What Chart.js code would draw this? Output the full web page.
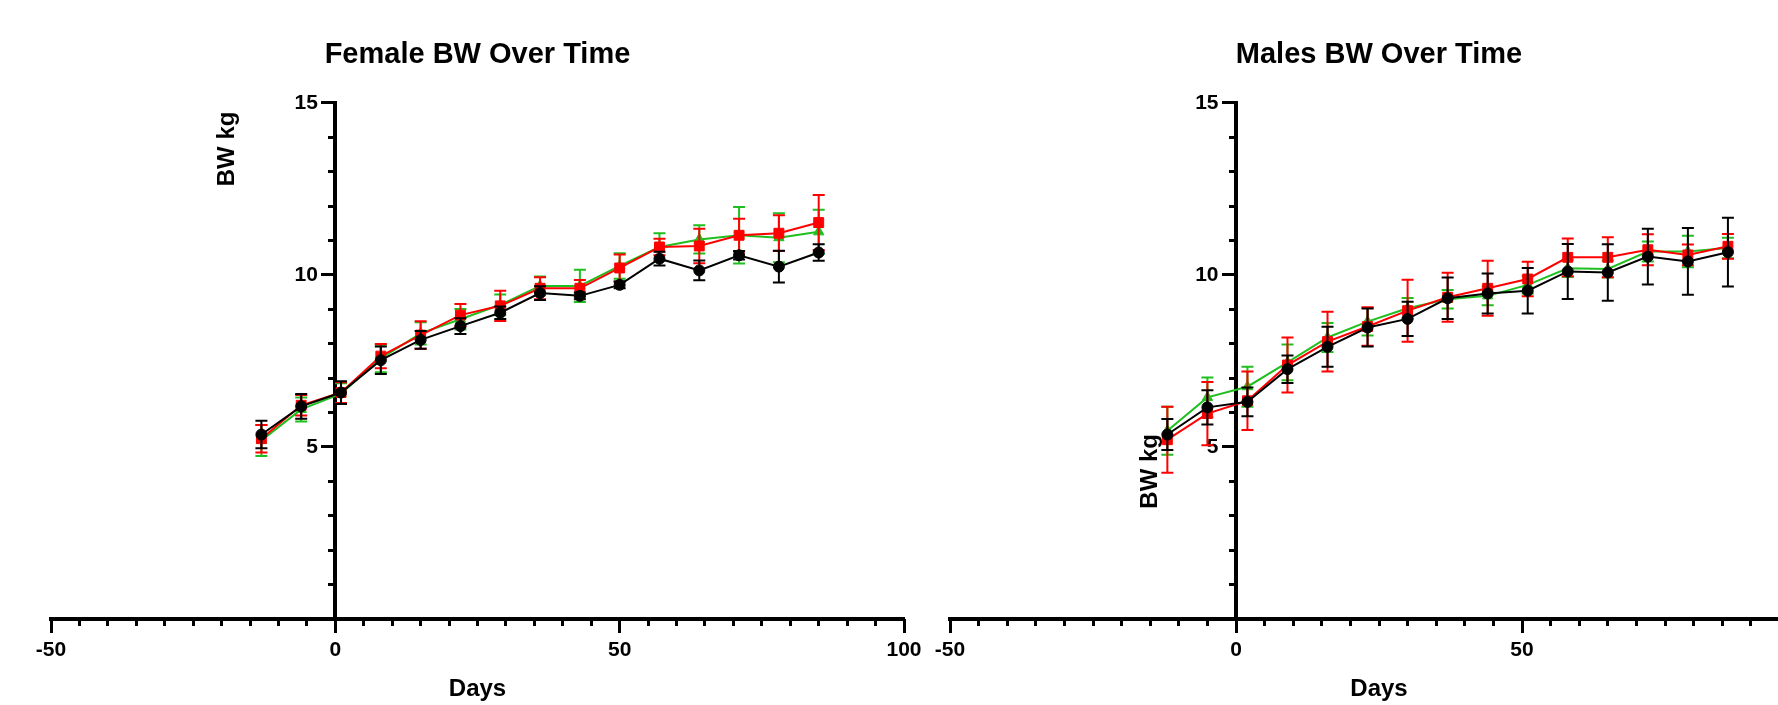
<!DOCTYPE html>
<html lang="en">
<head>
  <meta charset="UTF-8">
  <title>BW Over Time</title>
  <script src="https://cdn.jsdelivr.net/npm/chart.js"></script>
  <style>
    html, body { margin: 0; padding: 0; background: #fff; overflow: hidden; }
    body { width: 1778px; height: 705px; position: relative; }
    canvas { position: absolute; top: 0; }
    #femaleChart { left: 0; }
    #maleChart { left: 915px; }
  </style>
</head>
<body>
  <canvas id="femaleChart" width="940" height="705"></canvas>
  <canvas id="maleChart" width="930" height="705"></canvas>

  <script>
    // days of each weighing
    const femaleDays = [-13, -6, 1, 8, 15, 22, 29, 36, 43, 50, 57, 64, 71, 78, 85];
    const maleDays = [-12, -5, 2, 9, 16, 23, 30, 37, 44, 51, 58, 65, 72, 79, 86];

    // female groups: mean and error (kg)
    const femaleBlack = [5.36, 6.18, 6.58, 7.52, 8.11, 8.51, 8.90, 9.47, 9.39, 9.71, 10.47, 10.13, 10.57, 10.24, 10.65];
    const femaleBlackErr = [0.40, 0.36, 0.33, 0.40, 0.26, 0.23, 0.18, 0.20, 0.10, 0.10, 0.20, 0.29, 0.12, 0.46, 0.24];
    const femaleRed = [5.24, 6.21, 6.58, 7.64, 8.25, 8.83, 9.10, 9.61, 9.61, 10.20, 10.81, 10.84, 11.15, 11.21, 11.52];
    const femaleRedErr = [0.40, 0.30, 0.30, 0.35, 0.40, 0.32, 0.44, 0.32, 0.24, 0.39, 0.24, 0.50, 0.48, 0.52, 0.80];
    const femaleGreen = [5.19, 6.09, 6.55, 7.57, 8.30, 8.71, 9.13, 9.68, 9.68, 10.26, 10.81, 11.03, 11.15, 11.08, 11.25];
    const femaleGreenErr = [0.45, 0.35, 0.30, 0.40, 0.32, 0.30, 0.30, 0.27, 0.47, 0.37, 0.40, 0.41, 0.82, 0.71, 0.64];

    // male groups
    const maleBlack = [5.36, 6.15, 6.31, 7.26, 7.91, 8.47, 8.72, 9.32, 9.46, 9.54, 10.10, 10.07, 10.53, 10.39, 10.66];
    const maleBlackErr = [0.45, 0.50, 0.42, 0.40, 0.58, 0.55, 0.50, 0.60, 0.58, 0.66, 0.80, 0.82, 0.81, 0.97, 1.00];
    const maleRed = [5.21, 5.97, 6.34, 7.38, 8.06, 8.50, 8.96, 9.35, 9.61, 9.88, 10.51, 10.51, 10.73, 10.58, 10.83];
    const maleRedErr = [0.96, 0.92, 0.85, 0.80, 0.87, 0.56, 0.90, 0.71, 0.80, 0.50, 0.55, 0.58, 0.45, 0.30, 0.36];
    const maleGreen = [5.47, 6.44, 6.75, 7.46, 8.18, 8.64, 9.03, 9.29, 9.39, 9.71, 10.19, 10.17, 10.68, 10.68, 10.78];
    const maleGreenErr = [0.70, 0.58, 0.58, 0.52, 0.42, 0.40, 0.30, 0.27, 0.27, 0.25, 0.25, 0.25, 0.29, 0.46, 0.30];

    const FONT = '"Liberation Sans", Arial, sans-serif';

    // draws mean +/- error whiskers under each dataset
    const errorBars = {
      id: 'errorBars',
      beforeDatasetDraw(chart, args) {
        const ds = chart.data.datasets[args.index];
        if (!ds.errors) return;
        const ctx = chart.ctx;
        const xs = chart.scales.x, ys = chart.scales.y;
        ctx.save();
        ctx.strokeStyle = ds.borderColor;
        ctx.lineWidth = 2;
        ds.data.forEach((p, i) => {
          const e = ds.errors[i];
          const px = xs.getPixelForValue(p.x);
          const top = ys.getPixelForValue(p.y + e);
          const bot = ys.getPixelForValue(p.y - e);
          ctx.beginPath();
          ctx.moveTo(px, top); ctx.lineTo(px, bot);
          ctx.moveTo(px - 6, top); ctx.lineTo(px + 6, top);
          ctx.moveTo(px - 6, bot); ctx.lineTo(px + 6, bot);
          ctx.stroke();
        });
        ctx.restore();
      }
    };

    // rotated "BW kg" placed at a data position
    const sideLabel = {
      id: 'sideLabel',
      afterDraw(chart, args, opts) {
        if (!opts.text) return;
        const ctx = chart.ctx;
        const px = chart.scales.x.getPixelForValue(opts.at[0]);
        const py = chart.scales.y.getPixelForValue(opts.at[1]);
        ctx.save();
        ctx.translate(px, py);
        ctx.rotate(-Math.PI / 2);
        ctx.font = 'bold 24px ' + FONT;
        ctx.fillStyle = '#000';
        ctx.textAlign = 'center';
        ctx.textBaseline = 'middle';
        ctx.fillText(opts.text, 0, 0);
        ctx.restore();
      }
    };

    function makeChart(id, title, days, groups, labelAt, pad) {
      const datasets = groups.map(g => ({
        data: days.map((d, i) => ({ x: d, y: g.mean[i] })),
        errors: g.err,
        borderColor: g.color,
        backgroundColor: g.color,
        pointStyle: g.style,
        pointRadius: g.radius,
        pointBorderWidth: 1,
        borderWidth: 2,
        tension: 0
      }));

      const tickFont = { family: FONT, size: 21, weight: 'bold' };

      return new Chart(document.getElementById(id), {
        type: 'line',
        data: { datasets },
        plugins: [errorBars, sideLabel],
        options: {
          responsive: false,
          animation: false,
          layout: { padding: pad },
          plugins: {
            legend: { display: false },
            tooltip: { enabled: false },
            title: {
              display: true, text: title, color: '#000',
              font: { family: FONT, size: 29, weight: 'bold' },
              padding: { top: 38, bottom: 30 }
            },
            sideLabel: { text: 'BW kg', at: labelAt }
          },
          scales: {
            x: {
              type: 'linear', min: -50, max: 100, position: 'bottom',
              afterFit: s => { s.height = 86; },
              border: { display: true, color: '#000', width: 4 },
              grid: { drawOnChartArea: false, tickLength: 14, tickWidth: 3, tickColor: '#000' },
              ticks: { stepSize: 50, color: '#000', font: tickFont, padding: 5, maxRotation: 0, autoSkip: false },
              title: {
                display: true, text: 'Days', color: '#000',
                font: { family: FONT, size: 24, weight: 'bold' },
                padding: { top: 0, bottom: 1 }
              }
            },
            xMinor: {
              type: 'linear', min: -50, max: 100, position: { y: 0 },
              border: { display: false },
              grid: { drawOnChartArea: false, tickLength: 7, tickWidth: 3, tickColor: '#000' },
              ticks: { stepSize: 5, display: false }
            },
            y: {
              type: 'linear', min: 0, max: 15, position: { x: 0 },
              border: { display: true, color: '#000', width: 4 },
              grid: { drawOnChartArea: false, tickLength: 12, tickWidth: 3, tickColor: '#000' },
              ticks: {
                stepSize: 5, color: '#000', font: tickFont,
                // axis sits mid-chart, so labels are pushed off the line with spaces
                callback: v => (v === 0 ? '' : v + '   ')
              }
            },
            yMinor: {
              type: 'linear', min: 0, max: 15, position: { x: 0 },
              border: { display: false },
              grid: { drawOnChartArea: false, tickLength: 7, tickWidth: 3, tickColor: '#000' },
              ticks: { stepSize: 1, display: false }
            }
          }
        }
      });
    }

    makeChart('femaleChart', 'Female BW Over Time', femaleDays, [
      { mean: femaleBlack, err: femaleBlackErr, color: '#000000', style: 'circle', radius: 5.5 },
      { mean: femaleRed, err: femaleRedErr, color: '#ff0000', style: 'rect', radius: 7 },
      { mean: femaleGreen, err: femaleGreenErr, color: '#1fbf1f', style: 'triangle', radius: 6 }
    ], [-19.0, 13.66], { left: 51, right: 36, top: 0, bottom: 0 });

    makeChart('maleChart', 'Males BW Over Time', maleDays, [
      { mean: maleBlack, err: maleBlackErr, color: '#000000', style: 'circle', radius: 5.5 },
      { mean: maleRed, err: maleRedErr, color: '#ff0000', style: 'rect', radius: 7 },
      { mean: maleGreen, err: maleGreenErr, color: '#1fbf1f', style: 'triangle', radius: 6 }
    ], [-15.0, 4.29], { left: 35, right: 37, top: 0, bottom: 0 });
  </script>
</body>
</html>
